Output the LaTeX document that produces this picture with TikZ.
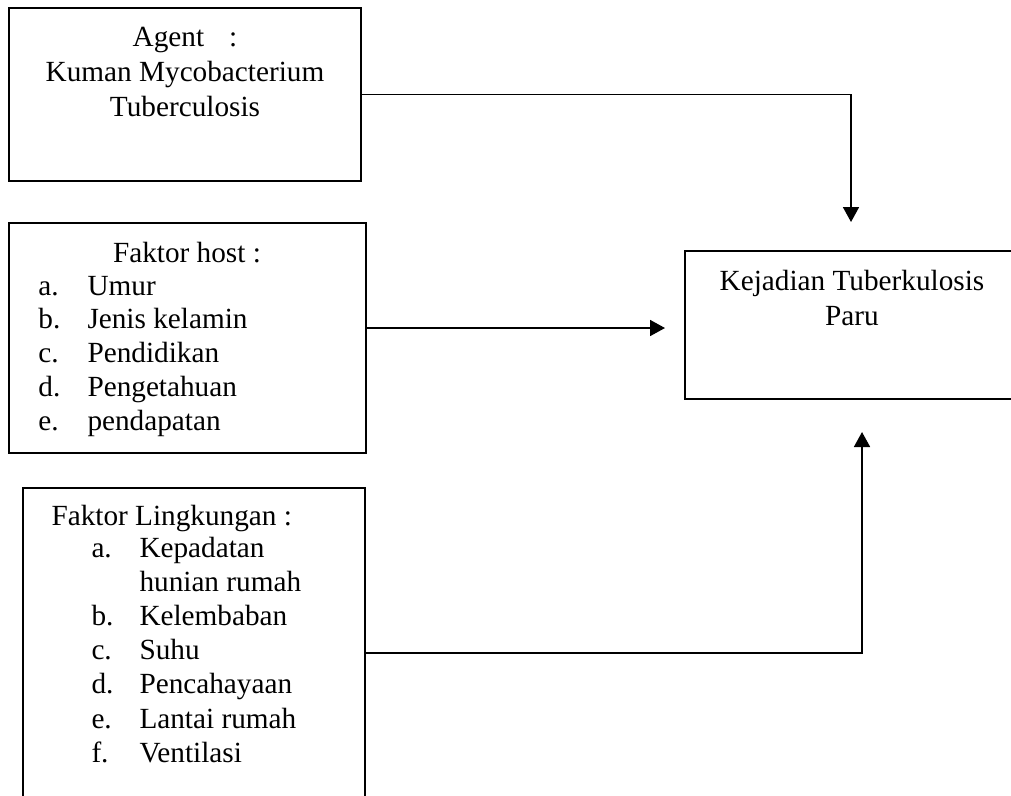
\documentclass[tikz,border=0pt]{standalone}
\usepackage{fontspec}
\setmainfont{Liberation Serif}
\usetikzlibrary{positioning,calc,arrows.meta}

\begin{document}
\begin{tikzpicture}[x=0.4pt,y=-0.4pt,
  box/.style={draw,line width=0.7pt,inner sep=0pt},
  txt/.style={inner sep=0pt,font=\fontsize{11.7}{14}\selectfont},
  arr/.style={line width=0.7pt,-{Triangle[length=6pt,width=6.4pt]}}]

%Unit of one pixel
\def\u{0.4pt}

\useasboundingbox (0,0) rectangle (1011,795);
\clip (0,0) rectangle (1011,795);

%Drawing boxes
\node[box,minimum width=352*\u,minimum height=173*\u] (agent) at (185,94.5) {};
\node[box,minimum width=357*\u,minimum height=230*\u] (host) at (187.5,338) {};
\node[box,minimum width=342*\u,minimum height=360*\u] (lingk) at (194,668) {};
\node[box,minimum width=334*\u,minimum height=148*\u] (kejadian) at (852,325) {};

%Agent text
\node[txt,anchor=base] (agentA) at (185,46) {Agent\hspace{10pt}:};
\node[txt,anchor=base] (agentB) at (185,81) {Kuman Mycobacterium};
\node[txt,anchor=base] (agentC) at (185,116) {Tuberculosis};

%Host list
\node[txt,anchor=base] (hosttitle) at (187,262) {Faktor host :};
\foreach \l/\t [count=\i from 0] in {a./Umur,b./Jenis kelamin,c./Pendidikan,d./Pengetahuan,e./pendapatan}{
  \node[txt,anchor=base west] (hl\i) at (38,{295+33.8*\i}) {\l};
  \node[txt,anchor=base west] (ht\i) at (87,{295+33.8*\i}) {\t};
}

%Lingkungan list
\node[txt,anchor=base west] (lingktitle) at (51,525) {Faktor Lingkungan :};
\foreach \l/\t [count=\i from 0] in {a./Kepadatan,/hunian rumah,b./Kelembaban,c./Suhu,d./Pencahayaan,e./Lantai rumah,f./Ventilasi}{
  \node[txt,anchor=base west] (ll\i) at (91,{557+34.2*\i}) {\l};
  \node[txt,anchor=base west] (lt\i) at (139,{557+34.2*\i}) {\t};
}

%Kejadian text
\node[txt,anchor=base] (kejA) at (852,290) {Kejadian Tuberkulosis};
\node[txt,anchor=base] (kejB) at (852,325) {Paru};

%Marking arrow ends
\coordinate (t1) at (851,222);
\coordinate (t2) at (665,328);
\coordinate (t3) at (862,432);
\coordinate (b3) at (862,653);

%Drawing arrows
\draw[arr] (agent.east) -- (agent.east -| t1) -- (t1);
\draw[arr] (host.east |- t2) -- (t2);
\draw[arr] (lingk.east |- b3) -- (b3) -- (t3);
\end{tikzpicture}
\end{document}
